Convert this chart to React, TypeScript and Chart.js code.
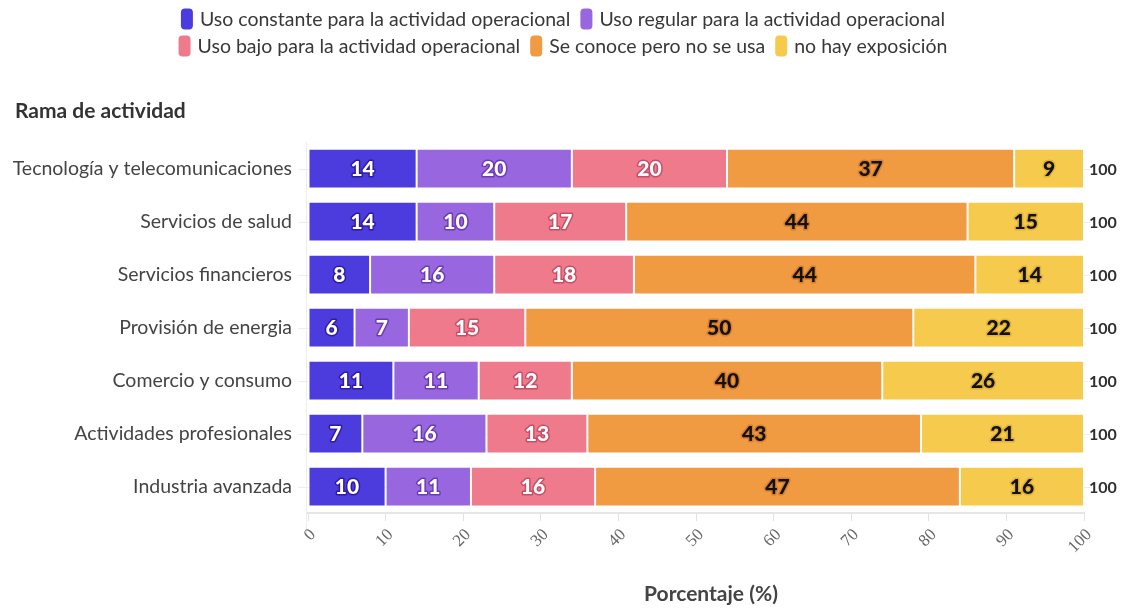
import React, { useEffect, useRef } from "react";
import { Chart, registerables } from "chart.js";

Chart.register(...registerables);

const categories = [
  "Tecnología y telecomunicaciones",
  "Servicios de salud",
  "Servicios financieros",
  "Provisión de energia",
  "Comercio y consumo",
  "Actividades profesionales",
  "Industria avanzada",
];

const seriesNames = [
  "Uso constante para la actividad operacional",
  "Uso regular para la actividad operacional",
  "Uso bajo para la actividad operacional",
  "Se conoce pero no se usa",
  "no hay exposición",
];

const usoConstante = [14, 14, 8, 6, 11, 7, 10];
const usoRegular = [20, 10, 16, 7, 11, 16, 11];
const usoBajo = [20, 17, 18, 15, 12, 13, 16];
const seConoce = [37, 44, 44, 50, 40, 43, 47];
const noExposicion = [9, 15, 14, 22, 26, 21, 16];
const totals = [100, 100, 100, 100, 100, 100, 100];

const xTicks = [0, 10, 20, 30, 40, 50, 60, 70, 80, 90, 100];

const seriesColors = ["#4c3cde", "#9866de", "#ee7a8c", "#f09a42", "#f6ca4c"];
const labelFill = ["#ffffff", "#ffffff", "#ffffff", "#111111", "#111111"];
const labelStroke = [
  "rgba(40,20,150,0.85)",
  "rgba(100,50,170,0.85)",
  "rgba(190,70,95,0.85)",
  "rgba(200,110,30,0.6)",
  "rgba(210,160,40,0.6)",
];

const FONT = "Lato, 'Open Sans', sans-serif";

const decorPlugin = {
  id: "decor",
  beforeDatasetsDraw(chart: any) {
    const { ctx, chartArea, scales } = chart;
    const y = scales.y;
    ctx.save();
    for (let i = 0; i < categories.length; i++) {
      const py = Math.round(y.getPixelForValue(i)) + 0.5;
      ctx.strokeStyle = "#ececec";
      ctx.lineWidth = 1;
      ctx.beginPath();
      ctx.moveTo(chartArea.left - 10, py);
      ctx.lineTo(chartArea.right + 6, py);
      ctx.stroke();
    }
    ctx.strokeStyle = "#ededed";
    ctx.lineWidth = 1;
    ctx.beginPath();
    ctx.moveTo(chartArea.left - 1.5, chartArea.top);
    ctx.lineTo(chartArea.left - 1.5, chartArea.bottom + 22);
    ctx.stroke();
    ctx.restore();
  },
  afterDatasetsDraw(chart: any) {
    const { ctx, chartArea } = chart;
    ctx.save();
    ctx.textAlign = "center";
    ctx.textBaseline = "middle";
    ctx.lineJoin = "round";
    chart.data.datasets.forEach((ds: any, di: number) => {
      const meta = chart.getDatasetMeta(di);
      meta.data.forEach((el: any, i: number) => {
        const v = ds.data[i];
        const cx = (el.x + el.base) / 2;
        const cy = el.y + 1;
        ctx.font = `900 21px ${FONT}`;
        ctx.lineWidth = 3;
        ctx.strokeStyle = labelStroke[di];
        ctx.strokeText(String(v), cx, cy);
        ctx.fillStyle = labelFill[di];
        ctx.fillText(String(v), cx, cy);
      });
    });
    const meta = chart.getDatasetMeta(0);
    ctx.textAlign = "left";
    ctx.font = `bold 16px ${FONT}`;
    ctx.fillStyle = "#2e2e2e";
    meta.data.forEach((el: any, i: number) => {
      ctx.fillText(String(totals[i]), chartArea.right + 5, el.y + 1);
    });
    ctx.restore();
  },
  afterDraw(chart: any) {
    const { ctx, chartArea, scales } = chart;
    ctx.save();
    // x tick labels, rotated
    ctx.font = `17px 'Liberation Serif', serif`;
    ctx.fillStyle = "#666666";
    ctx.textAlign = "right";
    ctx.textBaseline = "middle";
    xTicks.forEach((v) => {
      const px = scales.x.getPixelForValue(v);
      ctx.save();
      ctx.translate(px + 5, chartArea.bottom + 19);
      ctx.rotate(-Math.PI / 4);
      ctx.fillText(String(v), 0, 0);
      ctx.restore();
    });
    // legend
    const rows = [[0, 1], [2, 3, 4]];
    const rowY = [19, 46];
    const boxW = 12;
    const boxH = 21;
    const boxGap = 7;
    const itemGap = 10;
    const centerX = 563;
    ctx.font = `19.5px ${FONT}`;
    ctx.textBaseline = "middle";
    ctx.textAlign = "left";
    rows.forEach((row, ri) => {
      const widths = row.map((k) => boxW + boxGap + ctx.measureText(seriesNames[k]).width);
      const total = widths.reduce((a, b) => a + b, 0) + itemGap * (row.length - 1);
      let x = centerX - total / 2;
      row.forEach((k, j) => {
        ctx.fillStyle = seriesColors[k];
        ctx.beginPath();
        (ctx as any).roundRect(x, rowY[ri] - boxH / 2, boxW, boxH, 4);
        ctx.fill();
        ctx.fillStyle = "#383838";
        ctx.fillText(seriesNames[k], x + boxW + boxGap, rowY[ri] + 1);
        x += widths[j] + itemGap;
      });
    });
    ctx.font = `bold 21px ${FONT}`;
    ctx.fillStyle = "#333333";
    ctx.textBaseline = "alphabetic";
    ctx.fillText("Rama de actividad", 15, 118);
    ctx.textAlign = "center";
    ctx.font = `bold 21px ${FONT}`;
    ctx.fillStyle = "#444444";
    ctx.fillText("Porcentaje (%)", 711, 601);
    ctx.restore();
  },
};

export default function App() {
  const canvasRef = useRef<HTMLCanvasElement | null>(null);

  useEffect(() => {
    if (!canvasRef.current) return;
    const seriesData = [usoConstante, usoRegular, usoBajo, seConoce, noExposicion];
    const chart = new Chart(canvasRef.current, {
      type: "bar",
      data: {
        labels: categories,
        datasets: seriesData.map((d, i) => ({
          label: seriesNames[i],
          data: d,
          backgroundColor: seriesColors[i],
          borderColor: "#ffffff",
          borderWidth: 1,
          borderSkipped: false,
          categoryPercentage: 1,
          barPercentage: 0.75,
        })),
      },
      options: {
        indexAxis: "y",
        animation: false,
        responsive: true,
        maintainAspectRatio: false,
        layout: { padding: { top: 142, right: 42, left: 0, bottom: 0 } },
        plugins: {
          legend: { display: false },
          tooltip: { enabled: false },
          title: { display: false },
        },
        scales: {
          x: {
            stacked: true,
            min: 0,
            max: 100,
            afterFit: (s: any) => {
              s.height = 95;
            },
            afterBuildTicks: (s: any) => {
              s.ticks = xTicks.map((v) => ({ value: v }));
            },
            ticks: {
              display: false,
              minRotation: 45,
              maxRotation: 45,
            },
            grid: {
              drawOnChartArea: false,
              drawTicks: true,
              tickLength: 8,
              color: "#e2e2e2",
            },
            border: { display: true, color: "#e6e6e6", width: 2 },
          },
          y: {
            stacked: true,
            afterFit: (s: any) => {
              s.width = 308;
            },
            ticks: {
              color: "#444444",
              font: { family: FONT, size: 19.5 },
              padding: 16,
            },
            grid: { display: false, drawTicks: false },
            border: { display: false },
          },
        },
      },
      plugins: [decorPlugin],
    });
    return () => chart.destroy();
  }, []);

  return (
    <div style={{ position: "fixed", left: 0, top: 0, width: 1126, height: 608, background: "#ffffff" }}>
      <canvas ref={canvasRef} />
    </div>
  );
}
